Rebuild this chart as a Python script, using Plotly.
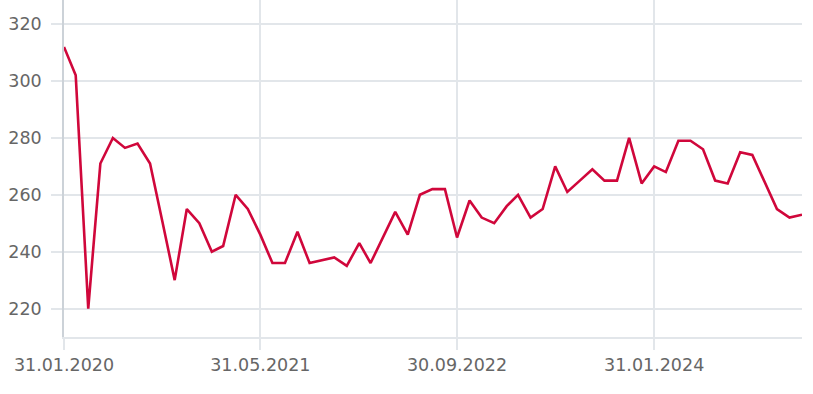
import plotly.graph_objects as go
import pandas as pd

dates = pd.date_range("2020-01-31", "2025-01-31", freq="ME").strftime("%Y-%m-%d").tolist()
values = [312, 302, 220, 271, 280, 276.5, 278, 271, 251, 230,
          255, 250, 240, 242, 260, 255, 246, 236, 236, 247,
          236, 237, 238, 235, 243, 236, 245, 254, 246, 260,
          262, 262, 245, 258, 252, 250, 256, 260, 252, 255,
          270, 261, 265, 269, 265, 265, 280, 264, 270, 268,
          279, 279, 276, 265, 264, 275, 274, 264.5, 255, 252,
          253]
tick_dates = ["2020-01-31", "2021-05-31", "2022-09-30", "2024-01-31"]
tick_text = ["31.01.2020", "31.05.2021", "30.09.2022", "31.01.2024"]
y_ticks = [220, 240, 260, 280, 300, 320]

grid = "#e2e6ea"
axis = "#ccd2d8"
font_col = "#666666"

fig = go.Figure(go.Scatter(x=dates, y=values, mode="lines",
                           line=dict(color="#d0073b", width=2.6),
                           hoverinfo="skip"))
fig.update_layout(
    width=813, height=394,
    margin=dict(l=64, r=11, t=0, b=57),
    paper_bgcolor="white", plot_bgcolor="white",
    showlegend=False,
    font=dict(family="DejaVu Sans, sans-serif", size=17.5, color=font_col),
)
fig.update_xaxes(
    type="date", range=["2020-01-31", "2025-01-31"],
    tickvals=tick_dates, ticktext=tick_text,
    showgrid=True, gridcolor=grid, gridwidth=1.5,
    ticks="outside", ticklen=11, tickcolor=grid, tickwidth=1.5,
    showline=True, linecolor=grid, linewidth=1.5,
    zeroline=False,
)
fig.update_yaxes(
    range=[210, 328.5], tickvals=y_ticks,
    showgrid=True, gridcolor=grid, gridwidth=1.5,
    ticks="outside", ticklen=11, tickcolor=grid, tickwidth=1.5,
    showline=True, linecolor=axis, linewidth=1.5,
    zeroline=False, ticklabelstandoff=6,
)
fig.write_html("out.html")
